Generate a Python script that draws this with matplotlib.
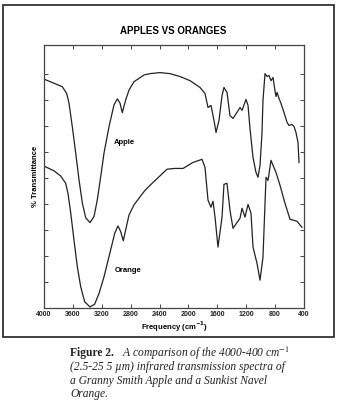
import matplotlib
matplotlib.use("Agg")
import matplotlib.pyplot as plt
from matplotlib.patches import Rectangle

plt.rcParams['font.family'] = ['Liberation Sans', 'DejaVu Sans']
plt.rcParams['mathtext.fontset'] = 'stix'

# IR spectra, wavenumber (cm-1) vs % transmittance
apple_wn = [4000, 3862, 3747, 3686, 3654, 3608, 3561, 3515, 3469, 3422, 3363, 3308,
            3262, 3215, 3169, 3100, 3031, 2985, 2948, 2916, 2869, 2823, 2754, 2615,
            2532, 2394, 2255, 2117, 1978, 1840, 1771, 1729, 1688, 1646, 1618, 1577,
            1535, 1508, 1466, 1425, 1383, 1328, 1286, 1258, 1203, 1175, 1148, 1106,
            1065, 1037, 1009, 982, 968, 940, 912, 885, 857, 829, 802, 788, 774, 746,
            718, 677, 635, 608, 566, 538, 511, 483, 469]
apple_t = [87.9, 86.3, 85.0, 82.4, 78.7, 69.6, 59.5, 49.2, 40.3, 34.6, 32.8, 35.1,
           41.5, 50.4, 59.5, 69.6, 78.0, 80.3, 78.7, 75.0, 79.9, 83.7, 86.9, 89.5,
           90.0, 90.4, 90.0, 88.9, 87.3, 84.7, 82.4, 77.0, 77.8, 72.0, 67.4, 72.0,
           81.6, 84.7, 82.8, 73.9, 72.8, 75.1, 77.0, 75.9, 80.1, 77.8, 69.0, 57.8,
           52.1, 50.2, 54.8, 67.0, 79.7, 90.0, 88.9, 89.3, 87.3, 88.5, 83.5, 81.2,
           82.8, 80.5, 78.5, 75.1, 71.3, 70.1, 70.5, 69.7, 67.4, 63.6, 55.9]

orange_wn = [4000, 3862, 3769, 3700, 3668, 3630, 3585, 3539, 3492, 3437, 3363, 3298,
             3238, 3169, 3077, 3021, 2975, 2938, 2902, 2869, 2823, 2754, 2615, 2574,
             2297, 2186, 2075, 1937, 1812, 1771, 1729, 1688, 1660, 1632, 1591, 1535,
             1508, 1466, 1425, 1383, 1286, 1258, 1217, 1175, 1134, 1106, 1051, 1009,
             968, 926, 898, 857, 829, 788, 732, 663, 594, 497, 428]
orange_t = [54.5, 52.7, 50.7, 47.9, 44.0, 36.5, 26.1, 15.9, 8.2, 2.4, 0.4, 1.5,
            5.6, 12.0, 22.3, 28.7, 31.5, 29.3, 25.8, 30.0, 35.7, 39.6, 44.7, 46.0,
            53.3, 53.6, 53.6, 55.9, 57.1, 54.0, 41.4, 38.7, 41.0, 34.9, 23.4, 34.9,
            47.5, 47.9, 37.5, 30.6, 34.5, 38.3, 34.9, 39.8, 36.4, 23.4, 17.2, 10.7,
            19.5, 50.2, 49.0, 56.7, 54.8, 52.1, 47.1, 40.2, 34.1, 33.3, 31.0]

x_ticks = [4000, 3600, 3200, 2800, 2400, 2000, 1600, 1200, 800, 400]
y_ticks = [10, 20, 30, 40, 50, 60, 70, 80, 90]

W, H = 340, 407
fig = plt.figure(figsize=(W / 100, H / 100), dpi=100)
fig.patch.set_facecolor('white')

# outer box round the figure panel
fig.patches.append(Rectangle((3 / W, 1 - 337 / H), 331 / W, 332 / H,
                             transform=fig.transFigure, fill=False,
                             edgecolor='#333333', linewidth=1.3))

ax = fig.add_axes([44 / W, 1 - 308 / H, 260 / W, 263 / H])
ax.plot(apple_wn, apple_t, color='#222222', lw=0.9)
ax.plot(orange_wn, orange_t, color='#222222', lw=0.9)

ax.set_xlim(4000, 400)
ax.set_ylim(0, 101)
ax.set_xticks(x_ticks)
ax.set_xticklabels([str(v) for v in x_ticks], fontsize=5, fontweight='bold')
ax.set_yticks(y_ticks)
ax.set_yticklabels([])
ax.tick_params(direction='in', length=3, width=0.7, top=True, right=True, pad=2,
               color='#444444', labelcolor='#222222')
for s in ax.spines.values():
    s.set_linewidth(0.9)
    s.set_color('#444444')

ax.set_xlabel('Frequency (cm$^{\\mathbf{-1}}$)', fontsize=5.5, fontweight='bold',
              labelpad=1.5, math_fontfamily='dejavusans')
ax.set_ylabel('% Transmittance', fontsize=5.5, fontweight='bold', labelpad=1.5)

ax.text(3030, 63.5, 'Apple', fontsize=5.5, fontweight='bold', va='center')
ax.text(3020, 14.5, 'Orange', fontsize=5.5, fontweight='bold', va='center')

fig.text(173 / W, 1 - 31 / H, 'APPLES VS ORANGES', fontsize=7, fontweight='bold',
         ha='center', va='center')

# caption below the panel
cap_font = ['Liberation Serif', 'DejaVu Serif']
fig.canvas.draw()
renderer = fig.canvas.get_renderer()
t0 = fig.text(70 / W, 1 - 353 / H, 'Figure 2.', fontsize=8.3, fontweight='bold',
              family=cap_font, va='center', color='#222222')
bb = t0.get_window_extent(renderer=renderer)
fig.text((bb.x1 + 8) / W, 1 - 353 / H,
         'A comparison of the 4000-400 cm$^{-1}$', fontsize=8.3, style='italic',
         family=cap_font, va='center', color='#222222')
caption_rest = ['(2.5-25 5 \u00b5m) infrared transmission spectra of',
                'a Granny Smith Apple and a Sunkist Navel',
                'Orange.']
for i, line in enumerate(caption_rest):
    fig.text(70 / W, 1 - (367 + 13.7 * i) / H, line, fontsize=8.3, style='italic',
             family=cap_font, va='center', color='#222222')

fig.savefig('out.png', dpi=100)
